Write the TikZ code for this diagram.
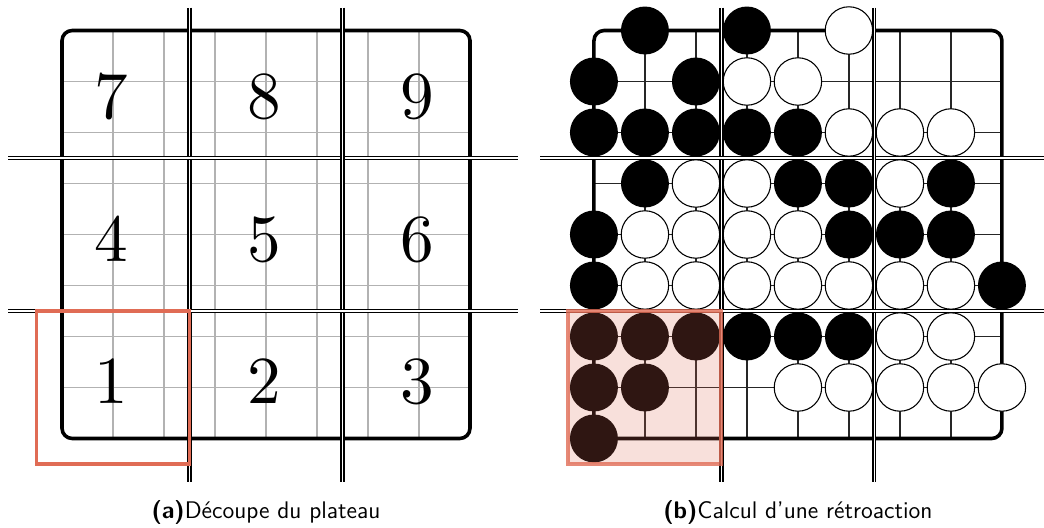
\documentclass[tikz,border=0pt]{standalone}
\usepackage{xcolor}
\usetikzlibrary{positioning}
\definecolor{zonered}{HTML}{E06C55}
\tikzset{
  boardframe/.style={line width=2pt, rounded corners=0.2cm},
  finegrid/.style={gray!60, line width=0.6pt},
  stonegrid/.style={black!85, line width=0.65pt},
  cutline/.style={double=white, double distance=0.9pt, line width=0.7pt},
  zonebox/.style={zonered, line width=2.2pt},
  blackstone/.style={circle, fill=black, inner sep=0pt, minimum size=0.94cm},
  whitestone/.style={circle, draw=black, fill=white, line width=0.6pt, inner sep=0pt, minimum size=0.93cm},
  zonenum/.style={anchor=base, inner sep=0pt},
  subcap/.style={font=\fontsize{13.4}{16}\selectfont\sffamily, anchor=base, inner sep=0pt}
}

\begin{document}
\begin{tikzpicture}
  \useasboundingbox (-1.216,0.598) rectangle (19.255,-9.755);
  % (a) board cut into zones
  \foreach \i in {1,...,7} {
    \draw[finegrid] (\i,0) -- (\i,-8);
    \draw[finegrid] (0,-\i) -- (8,-\i);
  }
  \draw[boardframe] (0,0) rectangle (8,-8);
  \foreach \n/\c/\r in {7/0.96/1.72, 8/3.96/1.72, 9/6.96/1.72, 4/0.96/4.52, 5/3.96/4.52, 6/6.96/4.52, 1/0.96/7.32, 2/3.96/7.32, 3/6.96/7.32}
    \node[zonenum] (z\n) at (\c,-\r) {\scalebox{3.75}{\n}};
  \foreach \k in {2.5,5.5} {
    \draw[cutline] (\k,0.45) -- (\k,-8.85);
    \draw[cutline] (-1.05,-\k) -- (8.95,-\k);
  }
  \draw[zonebox] (-0.5,-5.5) rectangle (2.5,-8.5);
  \node[subcap] (capA) at (4,-9.56) {\textbf{(a)}Découpe du plateau};

  % (b) feedback on one zone
  \begin{scope}[xshift=10.43cm]
    \foreach \i in {1,...,7} {
      \draw[stonegrid] (\i,0) -- (\i,-8);
      \draw[stonegrid] (0,-\i) -- (8,-\i);
    }
    \draw[boardframe] (0,0) rectangle (8,-8);
    \foreach \c/\r in {1/0,3/0,0/1,2/1,0/2,1/2,2/2,3/2,4/2,1/3,4/3,5/3,7/3,0/4,5/4,6/4,7/4,0/5,8/5,0/6,1/6,2/6,3/6,4/6,5/6,0/7,1/7,0/8}
      \node[blackstone] (b\c\r) at (\c,-\r) {};
    \foreach \c/\r in {5/0,3/1,4/1,5/2,6/2,7/2,2/3,3/3,6/3,1/4,2/4,3/4,4/4,1/5,2/5,3/5,4/5,5/5,6/5,7/5,6/6,7/6,4/7,5/7,6/7,7/7,8/7}
      \node[whitestone] (w\c\r) at (\c,-\r) {};
    \foreach \k in {2.5,5.5} {
      \draw[cutline] (\k,0.45) -- (\k,-8.85);
      \draw[cutline] (-1.05,-\k) -- (8.85,-\k);
    }
    \fill[zonered, opacity=0.21] (-0.5,-5.5) rectangle (2.5,-8.5);
    \draw[zonebox, draw opacity=0.8] (-0.5,-5.5) rectangle (2.5,-8.5);
    \node[subcap] (capB) at (4,-9.56) {\textbf{(b)}Calcul d'une rétroaction};
  \end{scope}
\end{tikzpicture}
\end{document}
